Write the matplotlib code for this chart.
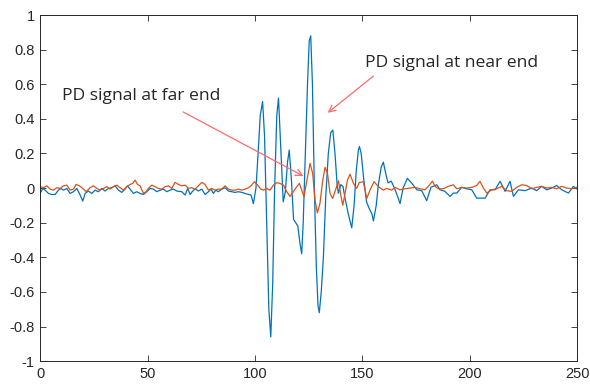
import matplotlib
matplotlib.use("Agg")
import matplotlib.pyplot as plt
from matplotlib.ticker import FuncFormatter

# ---- data ----
near_x = [0.0, 1.24, 2.33, 3.88, 5.43, 6.98, 8.54, 9.62, 10.86, 12.41, 13.97, 15.52, 17.07,
          18.62, 19.86, 20.95, 22.5, 24.05, 25.6, 27.16, 28.71, 30.26, 31.81, 33.36, 34.92,
          36.47, 38.02, 39.57, 40.66, 41.9, 43.45, 45.0, 46.55, 48.1, 49.66, 51.21, 52.76,
          54.31, 55.87, 57.42, 58.97, 60.52, 62.07, 63.6, 65.95, 67.5, 68.75, 69.83, 71.4,
          72.5, 73.7, 75.3, 76.8, 78.4, 79.6, 80.7, 81.8, 83.0, 84.6, 86.1, 87.7, 89.2, 90.8,
          92.3, 93.9, 95.4, 97.0, 98.2, 99.3, 100.5, 101.5, 102.5, 103.6, 104.5, 105.5, 106.5,
          107.4, 108.3, 109.2, 110.2, 111.0, 112.0, 113.2, 114.2, 115.2, 116.0, 117.0, 118.0,
          119.0, 120.0, 121.0, 121.8, 122.5, 123.5, 124.5, 125.3, 126.0, 126.8, 127.7, 128.6,
          129.4, 130.0, 130.9, 131.9, 133.0, 134.2, 135.3, 136.3, 137.3, 138.3, 138.9, 140.0,
          141.0, 142.0, 143.5, 145.1, 146.2, 147.2, 148.2, 148.7, 149.5, 150.7, 152.0, 153.3,
          154.5, 155.2, 156.5, 157.5, 158.8, 159.8, 161.0, 162.0, 163.5, 165.0, 166.5, 167.6,
          169.0, 171.0, 173.0, 175.4, 177.7, 180.0, 182.0, 184.7, 186.2, 188.5, 190.9, 192.4,
          194.0, 196.3, 198.6, 201.0, 203.3, 207.2, 209.5, 211.8, 214.2, 216.5, 218.8, 220.4,
          222.7, 225.8, 228.9, 231.2, 233.6, 235.9, 238.2, 240.5, 242.9, 246.0, 248.3, 249.8]
near_y = [-0.031, -0.002, -0.012, -0.031, -0.037, -0.037, -0.012, -0.002, -0.012, -0.002,
          -0.031, -0.021, -0.002, -0.040, -0.075, -0.031, -0.017, -0.031, -0.012, -0.021,
          -0.002, -0.017, -0.002, 0.002, 0.013, -0.012, -0.025, -0.006, 0.013, -0.006, -0.031,
          -0.021, -0.031, -0.037, -0.021, -0.002, -0.006, -0.021, -0.012, -0.006, -0.021,
          -0.012, -0.006, -0.017, -0.021, -0.040, -0.002, -0.037, -0.012, -0.006, -0.017,
          -0.006, -0.037, -0.021, -0.006, -0.031, -0.012, -0.021, -0.006, 0.002, -0.017,
          -0.021, -0.025, -0.021, -0.025, -0.031, -0.037, -0.040, -0.090, 0.0, 0.20, 0.42,
          0.50, 0.30, -0.20, -0.70, -0.86, -0.55, 0.0, 0.42, 0.52, 0.25, -0.08, -0.02, 0.15,
          0.22, 0.05, -0.18, -0.20, -0.22, -0.32, -0.38, -0.20, 0.20, 0.60, 0.85, 0.88, 0.60,
          0.0, -0.45, -0.68, -0.72, -0.60, -0.40, -0.05, 0.20, 0.32, 0.335, 0.20, 0.02, -0.03,
          0.02, 0.01, -0.06, -0.15, -0.23, -0.10, 0.10, 0.22, 0.24, 0.20, 0.05, -0.08, -0.12,
          -0.15, -0.19, -0.10, 0.02, 0.12, 0.15, 0.08, 0.03, 0.04, 0.0, -0.05, -0.09, 0.0,
          0.056, 0.029, -0.010, -0.015, -0.073, 0.005, 0.019, -0.010, -0.019, -0.048, -0.029,
          -0.029, 0.004, -0.004, -0.010, -0.058, -0.058, -0.010, -0.010, 0.039, -0.019, 0.039,
          -0.048, -0.010, -0.015, 0.0, -0.015, 0.010, -0.010, 0.0, 0.015, -0.010, -0.029,
          0.010, -0.004]

far_x = [0.0, 1.55, 3.1, 4.66, 6.21, 7.76, 9.31, 10.86, 12.41, 13.97, 15.52, 16.76, 18.31,
         19.86, 21.42, 23.28, 24.83, 26.38, 27.93, 29.48, 31.04, 32.59, 34.14, 35.69, 37.24,
         38.8, 40.35, 41.9, 43.14, 44.23, 45.31, 46.55, 48.1, 49.35, 50.43, 51.98, 53.54,
         55.09, 56.64, 58.19, 59.75, 61.3, 62.85, 64.4, 65.95, 67.5, 69.06, 70.6, 72.16,
         73.71, 75.26, 76.8, 78.37, 79.92, 81.47, 83.0, 84.58, 86.13, 87.68, 89.23, 90.78,
         92.33, 93.89, 95.44, 97.0, 98.23, 99.78, 101.3, 102.8, 103.96, 105.5, 107.07, 108.6,
         110.2, 111.7, 113.3, 114.8, 116.4, 117.9, 119.5, 120.7, 121.8, 122.9, 124.1, 125.7,
         126.9, 128.0, 129.1, 130.3, 131.6, 132.7, 133.8, 135.0, 136.2, 137.8, 138.9, 140.0,
         140.9, 142.0, 143.1, 144.3, 145.9, 147.4, 148.6, 150.5, 152.1, 153.6, 155.5, 157.5,
         159.8, 161.4, 163.7, 165.3, 167.6, 169.9, 172.3, 174.6, 176.9, 179.2, 180.8, 182.7,
         183.9, 185.4, 187.8, 190.1, 192.4, 194.0, 196.3, 198.6, 201.0, 203.3, 204.8, 206.4,
         208.0, 210.3, 212.6, 214.9, 217.3, 219.6, 221.9, 224.2, 226.6, 228.9, 231.2, 233.6,
         235.9, 238.2, 240.5, 242.9, 245.2, 247.5, 249.8]
far_y = [0.008, 0.002, 0.013, -0.006, -0.012, 0.002, -0.002, 0.013, 0.017, -0.012, -0.006,
         0.021, 0.013, -0.002, -0.021, 0.002, 0.013, -0.002, -0.012, -0.002, 0.008, -0.006,
         0.008, 0.017, 0.002, -0.012, 0.008, 0.021, 0.027, 0.046, 0.021, 0.013, -0.031,
         -0.021, -0.002, 0.017, 0.008, -0.002, -0.006, 0.008, 0.013, -0.002, 0.033, 0.021,
         0.013, 0.017, -0.002, 0.002, -0.006, 0.013, 0.033, 0.021, -0.012, -0.002, -0.012,
         -0.006, -0.006, 0.013, -0.006, -0.012, -0.012, -0.006, -0.012, -0.006, 0.002, 0.013,
         0.037, 0.017, -0.006, -0.012, -0.002, -0.012, 0.017, 0.031, 0.027, 0.017, -0.021,
         -0.048, -0.021, 0.008, 0.027, -0.012, -0.050, 0.037, 0.143, 0.085, -0.069, -0.143,
         -0.089, 0.046, 0.120, 0.085, -0.031, -0.060, -0.002, 0.042, -0.040, -0.100, -0.031,
         0.046, 0.080, 0.027, -0.002, 0.032, 0.037, -0.060, -0.012, 0.037, 0.008, -0.012,
         -0.002, -0.012, 0.004, -0.010, -0.004, 0.0, 0.004, -0.004, -0.010, 0.010, 0.040,
         0.010, -0.004, -0.004, 0.010, 0.019, -0.004, 0.004, 0.0, 0.004, 0.015, 0.039, 0.0,
         -0.029, -0.010, -0.004, 0.010, -0.015, -0.019, 0.004, 0.019, 0.015, -0.004, 0.004,
         0.010, 0.0, 0.004, -0.004, 0.010, 0.0, -0.004, 0.004]

x_ticks = [0, 50, 100, 150, 200, 250]
y_ticks = [-1, -0.8, -0.6, -0.4, -0.2, 0, 0.2, 0.4, 0.6, 0.8, 1]

near_label = "PD signal at near end"
far_label = "PD signal at far end"

# ---- figure ----
fig = plt.figure(figsize=(5.9, 3.85), dpi=100)
ax = fig.add_axes([0.068, 0.062, 0.910, 0.899])

ax.plot(near_x, near_y, color="#0072BD", lw=0.9)
ax.plot(far_x, far_y, color="#D95319", lw=0.9)

ax.set_xlim(0, 250)
ax.set_ylim(-1, 1)
ax.set_xticks(x_ticks)
ax.set_yticks(y_ticks)
ax.yaxis.set_major_formatter(FuncFormatter(lambda v, p: f"{v:g}"))
ax.tick_params(direction="in", top=True, right=True, length=4, width=0.6,
               labelsize=10.5, colors="#262626", pad=4)
for lbl in ax.get_xticklabels() + ax.get_yticklabels():
    lbl.set_family("Liberation Sans")
for s in ax.spines.values():
    s.set_color("#262626")
    s.set_linewidth(0.7)

arrow_kw = dict(arrowstyle="->", color="#FF6B6B", lw=0.9, shrinkA=0, shrinkB=0,
                mutation_scale=12)
ax.annotate(near_label, xy=(133.9, 0.435), xytext=(151.3, 0.72), fontsize=12.6,
            family="Open Sans", color="#262626", va="center", ha="left")
ax.annotate("", xy=(133.9, 0.435), xytext=(155.2, 0.647), arrowprops=arrow_kw)
ax.annotate(far_label, xy=(122.6, 0.069), xytext=(10.2, 0.53), fontsize=12.6,
            family="Open Sans", color="#262626", va="center", ha="left")
ax.annotate("", xy=(122.6, 0.069), xytext=(66.6, 0.44), arrowprops=arrow_kw)

fig.savefig("out.png", dpi=100)
